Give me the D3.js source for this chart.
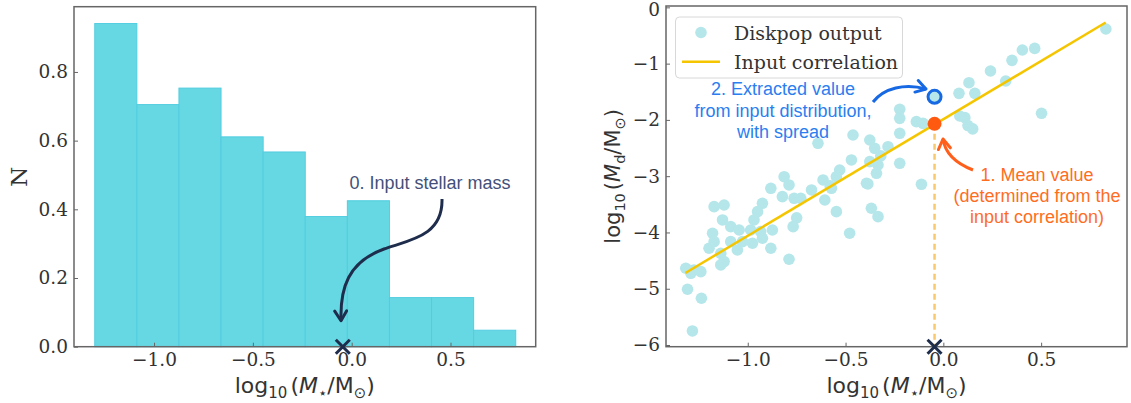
<!DOCTYPE html>
<html><head><meta charset="utf-8">
<script src="https://cdn.jsdelivr.net/npm/d3@7"></script>
<style>body{margin:0;background:#fff} svg{display:block}</style>
</head><body>
<svg id="c" width="1131" height="403"></svg>
<script>
// ---------- data ----------
const binEdges = [-1.30, -1.087, -0.874, -0.661, -0.448, -0.235, -0.022, 0.191, 0.404, 0.617, 0.83];
const histCounts = [0.941, 0.705, 0.753, 0.611, 0.567, 0.379, 0.425, 0.143, 0.143, 0.048];
const xTicks = [-1.0, -0.5, 0.0, 0.5];
const histYTicks = [0.0, 0.2, 0.4, 0.6, 0.8];
const diskYTicks = [0, -1, -2, -3, -4, -5, -6];
const diskpopX = [0.831,0.467,0.404,0.351,0.241,0.319,0.131,0.080,0.161,0.502,0.084,0.110,0.126,0.150,
 -0.223,-0.223,-0.138,-0.104,-0.223,-0.112,-0.223,
 -0.462,-0.641,-0.376,-0.351,-0.283,-0.470,-0.376,-0.334,-0.320,-0.530,-0.342,-0.547,-0.615,-0.393,-0.572,-0.674,-0.606,-0.547,-0.368,-0.334,-0.479,-0.386,-0.579,
 -0.814,-0.789,-0.882,-0.823,-0.763,-0.729,-0.925,-0.950,-0.968,-1.172,-1.121,-1.129,-1.087,-1.044,-0.985,-0.934,-0.874,-1.180,-1.172,-1.087,-1.027,-0.976,-0.925,-0.882,-1.198,-1.053,-1.138,-1.121,-1.138,-0.789,-0.768,-0.750,
 -1.317,-1.275,-1.240,-1.291,-1.308,-1.237,-1.283];
const diskpopY = [-0.385,-0.729,-0.758,-0.942,-1.131,-1.309,-1.339,-1.528,-1.528,-1.883,-1.931,-1.960,-2.100,-2.160,
 -1.812,-1.972,-2.031,-2.061,-2.238,-3.144,-2.771,
 -2.268,-2.416,-2.357,-2.505,-2.476,-2.712,-2.742,-2.801,-2.640,-2.890,-2.949,-3.009,-3.067,-3.126,-3.215,-3.245,-3.423,-3.630,-3.570,-3.719,-4.014,-3.138,-3.173,
 -3.009,-3.156,-3.215,-3.364,-3.393,-3.393,-3.482,-3.630,-3.778,-3.541,-3.512,-3.778,-3.897,-3.956,-3.956,-3.985,-3.956,-4.014,-4.163,-4.163,-4.163,-4.192,-4.103,-4.281,-4.281,-4.311,-4.370,-4.518,-4.577,-4.476,-3.897,-3.740,
 -4.636,-4.666,-4.696,-4.726,-5.009,-5.169,-5.750];
const corrX = [-1.319, 0.830];
const corrY = [-4.72, -0.27];
const inputMass = [-0.045];
const meanValue = [-2.07];
const extractedValue = [-1.59];

// ---------- setup ----------
const svg = d3.select("#c");
const serif = "DejaVu Serif", sans = "Liberation Sans";
const tickCol = "#333", frameCol = "#666";
const defs = svg.append("defs");
function marker(id, col){
  defs.append("marker").attr("id", id).attr("viewBox","0 0 10 10").attr("refX",8).attr("refY",5)
    .attr("markerWidth",15).attr("markerHeight",15).attr("markerUnits","userSpaceOnUse").attr("orient","auto")
    .append("path").attr("d","M1.5,1 L8,5 L1.5,9").attr("fill","none").attr("stroke",col)
    .attr("stroke-width",2).attr("stroke-linejoin","round").attr("stroke-linecap","round");
}
marker("ahNavy","#1f2d4d"); marker("ahBlue","#1668e3"); marker("ahOrange","#ff5f1a");

function styleAxis(g){
  g.select(".domain").remove();
  g.selectAll(".tick line").attr("stroke", frameCol).attr("stroke-width",1);
  g.selectAll(".tick text").attr("font-family", serif).attr("font-size", 18.5).attr("fill", tickCol);
}
function mathLabel(sel, parts, big, small){
  const t = sel.append("text").attr("font-family","DejaVu Sans").attr("fill", tickCol).attr("text-anchor","middle");
  let shift = 0;
  parts.forEach(p=>{
    const sp = t.append("tspan").text(p.t).attr("font-size", p.sub ? small : big);
    const want = p.sub ? 5 : 0;
    sp.attr("dy", want - shift); shift = want;
    if (p.it) sp.attr("font-style","italic");
    if (p.dx) sp.attr("dx", p.dx);
  });
  return t;
}
const xLabelParts = [{t:"log"},{t:"10",sub:1},{t:"(",dx:3},{t:"M",it:1},{t:"⋆",sub:1},{t:"/"},{t:"M"},{t:"⊙",sub:1},{t:")"}];

// ---------- left panel: histogram ----------
const L = {x0:74, x1:535.7, y0:6.7, y1:346.7};
const xL = d3.scaleLinear().domain([-1.405, 0.931]).range([L.x0, L.x1]);
const yL = d3.scaleLinear().domain([0, 0.99]).range([L.y1, L.y0]);
const gL = svg.append("g");
gL.selectAll("rect.bar").data(histCounts).join("rect").attr("class","bar")
  .attr("x",(d,i)=>xL(binEdges[i])).attr("width",(d,i)=>xL(binEdges[i+1])-xL(binEdges[i]))
  .attr("y",d=>yL(d)).attr("height",d=>yL(0)-yL(d))
  .attr("fill","#66d8e3").attr("stroke","#52cde0").attr("stroke-width",1);
gL.append("g").attr("transform",`translate(0,${L.y1})`)
  .call(d3.axisBottom(xL).tickValues(xTicks).tickFormat(d3.format(".1f")).tickSizeInner(-4).tickSizeOuter(0).tickPadding(6))
  .call(styleAxis);
gL.append("g").attr("transform",`translate(${L.x0},0)`)
  .call(d3.axisLeft(yL).tickValues(histYTicks).tickFormat(d3.format(".1f")).tickSizeInner(-4).tickSizeOuter(0).tickPadding(6))
  .call(styleAxis);
gL.append("rect").attr("x",L.x0).attr("y",L.y0).attr("width",L.x1-L.x0).attr("height",L.y1-L.y0)
  .attr("fill","none").attr("stroke",frameCol).attr("stroke-width",1.5);
gL.append("text").attr("transform",`translate(19,${(L.y0+L.y1)/2}) rotate(-90)`).attr("text-anchor","middle")
  .attr("dominant-baseline","central").attr("font-family",serif).attr("font-size",23).attr("fill",tickCol).text("N");
mathLabel(gL, xLabelParts, 22, 15).attr("x",(L.x0+L.x1)/2).attr("y",393);
// annotation 0
gL.append("path").attr("d",`M442,199 C443,236 410,240 384,249 C348,262 340,288 341,${yL(0)-26}`)
  .attr("fill","none").attr("stroke","#1f2d4d").attr("stroke-width",3).attr("marker-end","url(#ahNavy)");
function cross(g, cx, cy){
  g.append("path").attr("d",`M${cx-7},${cy-7} L${cx+7},${cy+7} M${cx-7},${cy+7} L${cx+7},${cy-7}`)
   .attr("stroke","#1f2d4d").attr("stroke-width",3);
}
cross(gL, xL(inputMass[0]), yL(0));
gL.append("text").attr("x",430).attr("y",183).attr("text-anchor","middle").attr("dominant-baseline","central")
  .attr("font-family",sans).attr("font-size",18).attr("fill","#43507a").text("0. Input stellar mass");

// ---------- right panel: scatter ----------
const R = {x0:666, x1:1127, y0:6, y1:346.7};
const xR = d3.scaleLinear().domain([-1.418, 0.939]).range([R.x0, R.x1]);
const yR = d3.scaleLinear().domain([-6.03, 0.024]).range([R.y1, R.y0]);
const gR = svg.append("g");
const ptCol = "#b5e6ea";
gR.selectAll("circle.pt").data(diskpopX).join("circle").attr("class","pt")
  .attr("cx",d=>xR(d)).attr("cy",(d,i)=>yR(diskpopY[i])).attr("r",5.8).attr("fill",ptCol);
gR.append("line").attr("x1",xR(corrX[0])).attr("y1",yR(corrY[0])).attr("x2",xR(corrX[1])).attr("y2",yR(corrY[1]))
  .attr("stroke","#f5c500").attr("stroke-width",2.5);
gR.append("line").attr("x1",xR(inputMass[0])).attr("x2",xR(inputMass[0])).attr("y1",yR(meanValue[0])).attr("y2",yR(-6.03))
  .attr("stroke","#f8c96e").attr("stroke-width",2.5).attr("stroke-dasharray","6,4");
gR.append("g").attr("transform",`translate(0,${R.y1})`)
  .call(d3.axisBottom(xR).tickValues(xTicks).tickFormat(d3.format(".1f")).tickSizeInner(-4).tickSizeOuter(0).tickPadding(6))
  .call(styleAxis);
gR.append("g").attr("transform",`translate(${R.x0},0)`)
  .call(d3.axisLeft(yR).tickValues(diskYTicks).tickFormat(d3.format("d")).tickSizeInner(-4).tickSizeOuter(0).tickPadding(6))
  .call(styleAxis)
  .call(g => g.selectAll(".tick text").filter(d => d === 0).attr("dy","0.45em"));
gR.append("rect").attr("x",R.x0).attr("y",R.y0).attr("width",R.x1-R.x0).attr("height",R.y1-R.y0)
  .attr("fill","none").attr("stroke",frameCol).attr("stroke-width",1.5);
// extracted & mean
gR.append("circle").attr("cx",xR(inputMass[0])).attr("cy",yR(extractedValue[0])).attr("r",6.5)
  .attr("fill",ptCol).attr("stroke","#1668e3").attr("stroke-width",3);
gR.append("circle").attr("cx",xR(inputMass[0])).attr("cy",yR(meanValue[0])).attr("r",7).attr("fill","#ff5a0f");
cross(gR, xR(inputMass[0]), yR(-6.03));
mathLabel(gR, xLabelParts, 22, 15).attr("x",(R.x0+R.x1)/2).attr("y",393);
mathLabel(gR, [{t:"log"},{t:"10",sub:1},{t:"(",dx:3},{t:"M",it:1},{t:"d",sub:1},{t:"/"},{t:"M"},{t:"⊙",sub:1},{t:")"}], 21, 14.5)
  .attr("transform",`translate(620,${(R.y0+R.y1)/2}) rotate(-90)`);
// arrows & annotations
gR.append("path").attr("d","M873,102 C884,88 905,83 926,89").attr("fill","none").attr("stroke","#1668e3")
  .attr("stroke-width",3).attr("marker-end","url(#ahBlue)");
gR.append("path").attr("d","M973,170 C955,163 945,153 943,139").attr("fill","none").attr("stroke","#ff5f1a")
  .attr("stroke-width",3).attr("marker-end","url(#ahOrange)");
const blueLines = ["2. Extracted value","from input distribution,","with spread"];
gR.append("text").attr("font-family",sans).attr("font-size",18).attr("fill","#2a7ef0").attr("text-anchor","middle")
  .selectAll("tspan").data(blueLines).join("tspan").attr("x",783).attr("y",(d,i)=>89+i*21.7)
  .attr("dominant-baseline","central").text(d=>d);
const orangeLines = ["1. Mean value","(determined from the","input correlation)"];
gR.append("text").attr("font-family",sans).attr("font-size",18).attr("fill","#ff6d1f").attr("text-anchor","middle")
  .selectAll("tspan").data(orangeLines).join("tspan").attr("x",1037).attr("y",(d,i)=>175+i*21)
  .attr("dominant-baseline","central").text(d=>d);
// legend
const lg = gR.append("g");
lg.append("rect").attr("x",675.5).attr("y",17).attr("width",227).attr("height",61).attr("rx",4)
  .attr("fill","#fff").attr("fill-opacity",0.8).attr("stroke","#d8d8d8");
lg.append("circle").attr("cx",701).attr("cy",32.5).attr("r",5.8).attr("fill",ptCol);
lg.append("line").attr("x1",682).attr("x2",720).attr("y1",61.7).attr("y2",61.7).attr("stroke","#f5c500").attr("stroke-width",2.5);
const legendLabels = ["Diskpop output","Input correlation"];
lg.selectAll("text").data(legendLabels).join("text").attr("x",734).attr("y",(d,i)=>33+i*29)
  .attr("dominant-baseline","central").attr("font-family",serif).attr("font-size",19).attr("fill","#333").text(d=>d);
</script>
</body></html>
